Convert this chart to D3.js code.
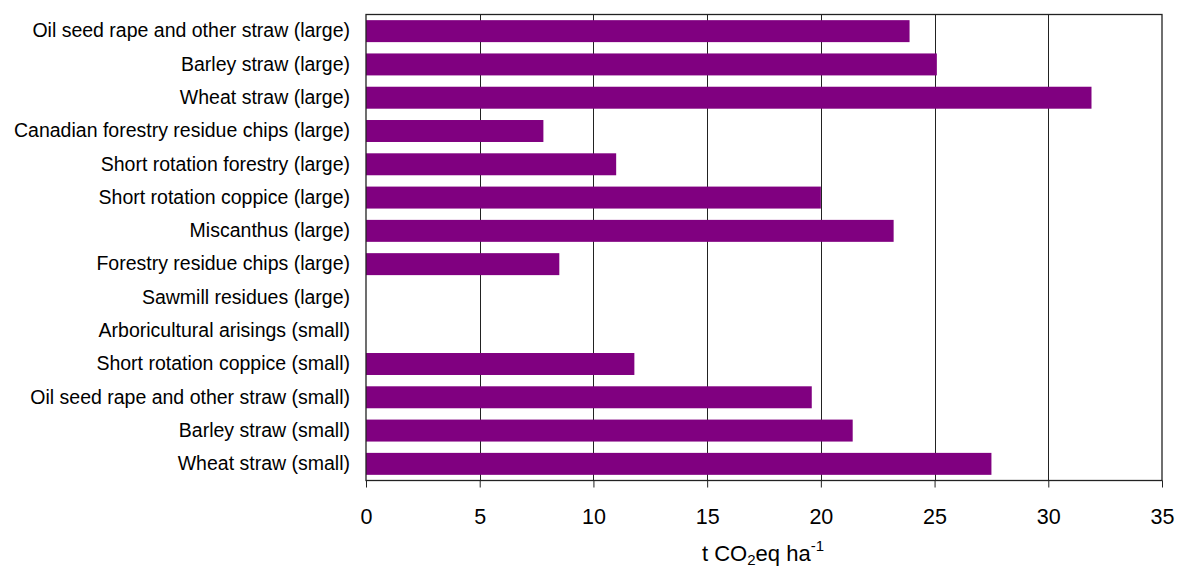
<!DOCTYPE html>
<html><head><meta charset="utf-8">
<script src="https://cdn.jsdelivr.net/npm/d3@7/dist/d3.min.js"></script>
<style>body{margin:0;background:#fff}svg{display:block}text{font-family:"Liberation Sans",Arial,sans-serif;fill:#000}</style>
</head><body>
<svg id="c" width="1178" height="570"></svg>
<script>
const categories = [
  "Oil seed rape and other straw (large)",
  "Barley straw (large)",
  "Wheat straw (large)",
  "Canadian forestry residue chips (large)",
  "Short rotation forestry (large)",
  "Short rotation coppice (large)",
  "Miscanthus (large)",
  "Forestry residue chips (large)",
  "Sawmill residues (large)",
  "Arboricultural arisings (small)",
  "Short rotation coppice (small)",
  "Oil seed rape and other straw (small)",
  "Barley straw (small)",
  "Wheat straw (small)"
];
const values = [23.9, 25.1, 31.9, 7.8, 11.0, 20.0, 23.2, 8.5, 0, 0, 11.8, 19.6, 21.4, 27.5];
const xTicks = [0, 5, 10, 15, 20, 25, 30, 35];

const m = {left: 366, top: 14.5, right: 1162, bottom: 480.5};
const svg = d3.select("#c");
const x = d3.scaleLinear().domain([0, 35]).range([m.left, m.right]);
const y = d3.scaleBand().domain(categories).range([m.top, m.bottom]).paddingInner(0.34).paddingOuter(0.17);

// gridlines
svg.append("g").selectAll("line").data(xTicks.slice(1, -1)).join("line")
  .attr("x1", d => Math.round(x(d)) + 0.5).attr("x2", d => Math.round(x(d)) + 0.5)
  .attr("y1", m.top).attr("y2", m.bottom)
  .attr("stroke", "#222").attr("stroke-width", 1);

// bars
svg.append("g").selectAll("rect").data(values).join("rect")
  .attr("x", x(0)).attr("y", (d, i) => y(categories[i]))
  .attr("width", d => x(d) - x(0)).attr("height", y.bandwidth())
  .attr("fill", "#800080");

// frame
svg.append("rect").attr("x", m.left).attr("y", m.top)
  .attr("width", m.right - m.left).attr("height", m.bottom - m.top)
  .attr("fill", "none").attr("stroke", "#222").attr("stroke-width", 1.3);

// x axis
const xa = svg.append("g").attr("transform", `translate(0,${m.bottom})`)
  .call(d3.axisBottom(x).tickValues(xTicks).tickSize(7).tickPadding(21).tickFormat(d3.format("d")));
xa.select(".domain").remove();
xa.selectAll("line").attr("stroke", "#222");
xa.selectAll("text").attr("font-size", 21.5).attr("font-family", "Liberation Sans, Arial, sans-serif");

// y axis labels
const ya = svg.append("g").attr("transform", `translate(${m.left},0)`)
  .call(d3.axisLeft(y).tickSize(0).tickPadding(16));
ya.select(".domain").remove();
ya.selectAll("text").attr("font-size", 19.5).attr("font-family", "Liberation Sans, Arial, sans-serif");

// axis title
const t = svg.append("text").attr("x", 763).attr("y", 561).attr("text-anchor", "middle").attr("font-size", 22);
t.append("tspan").text("t CO");
t.append("tspan").text("2").attr("font-size", 15).attr("dy", 4);
t.append("tspan").text("eq ha").attr("dy", -4);
t.append("tspan").text("-1").attr("font-size", 15).attr("dy", -10);
</script>
</body></html>
